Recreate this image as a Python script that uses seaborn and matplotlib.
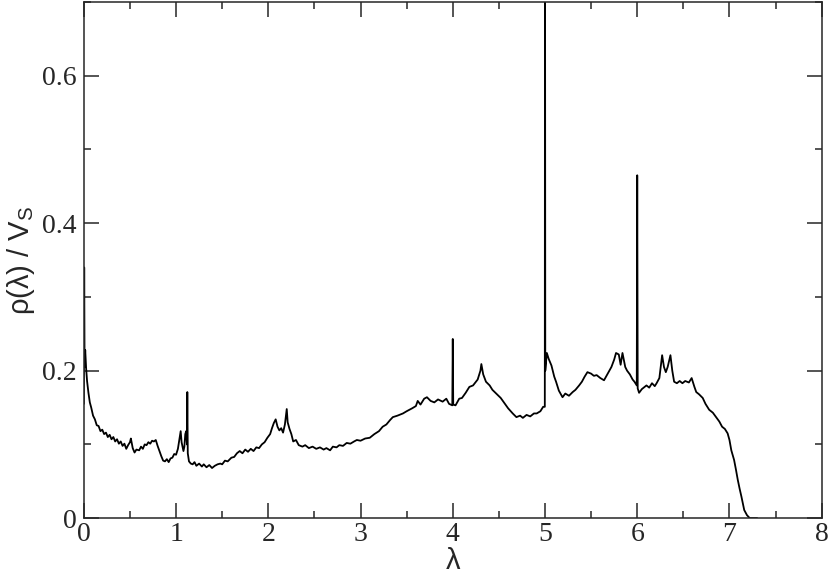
import matplotlib
matplotlib.use("Agg")
import matplotlib.pyplot as plt
import seaborn as sns
from matplotlib.ticker import MultipleLocator, FuncFormatter

# spectral density, lambda vs rho/V_s
lam = [
    0.000, 0.004, 0.008, 0.015, 0.025, 0.035, 0.050, 0.065, 0.080, 0.100,
    0.120, 0.140, 0.160, 0.180, 0.200, 0.220, 0.240, 0.260, 0.280, 0.300,
    0.320, 0.340, 0.360, 0.380, 0.400, 0.420, 0.440, 0.460, 0.480, 0.500,
    0.510, 0.530, 0.550, 0.570, 0.600, 0.620, 0.640, 0.660, 0.680, 0.700,
    0.720, 0.740, 0.760, 0.780, 0.800, 0.820, 0.840, 0.860, 0.880, 0.900,
    0.920, 0.940, 0.960, 0.980, 1.000, 1.020, 1.040, 1.050, 1.060, 1.080,
    1.090, 1.100, 1.110, 1.118, 1.122, 1.127, 1.140, 1.160, 1.180, 1.200,
    1.220, 1.250, 1.280, 1.300, 1.330, 1.360, 1.390, 1.420, 1.450, 1.480,
    1.500, 1.530, 1.560, 1.600, 1.630, 1.660, 1.690, 1.720, 1.750, 1.780,
    1.810, 1.840, 1.870, 1.900, 1.930, 1.960, 1.990, 2.020, 2.040, 2.060,
    2.080, 2.100, 2.120, 2.140, 2.160, 2.180, 2.200, 2.210, 2.230, 2.250,
    2.270, 2.300, 2.330, 2.370, 2.400, 2.440, 2.480, 2.520, 2.560, 2.600,
    2.630, 2.670, 2.700, 2.740, 2.770, 2.810, 2.850, 2.890, 2.930, 2.960,
    3.000, 3.050, 3.100, 3.150, 3.200, 3.240, 3.280, 3.320, 3.350, 3.400,
    3.460, 3.500, 3.560, 3.600, 3.620, 3.650, 3.690, 3.720, 3.760, 3.800,
    3.840, 3.890, 3.930, 3.960, 3.995, 4.000, 4.005, 4.030, 4.070, 4.100,
    4.140, 4.180, 4.220, 4.270, 4.300, 4.310, 4.330, 4.360, 4.400, 4.430,
    4.480, 4.520, 4.560, 4.600, 4.650, 4.690, 4.730, 4.760, 4.800, 4.840,
    4.880, 4.910, 4.950, 4.980, 4.998, 5.000, 5.003, 5.020, 5.040, 5.070,
    5.100, 5.120, 5.150, 5.190, 5.220, 5.260, 5.300, 5.330, 5.370, 5.400,
    5.430, 5.460, 5.500, 5.530, 5.560, 5.600, 5.640, 5.680, 5.720, 5.750,
    5.770, 5.800, 5.820, 5.840, 5.870, 5.890, 5.920, 5.950, 5.970, 5.995,
    6.000, 6.005, 6.020, 6.050, 6.080, 6.100, 6.130, 6.160, 6.190, 6.210,
    6.240, 6.270, 6.290, 6.310, 6.330, 6.360, 6.380, 6.400, 6.430, 6.460,
    6.490, 6.520, 6.560, 6.590, 6.620, 6.640, 6.670, 6.710, 6.740, 6.780,
    6.820, 6.860, 6.890, 6.920, 6.950, 6.980, 7.000, 7.020, 7.050, 7.070,
    7.090, 7.110, 7.130, 7.160, 7.190, 7.220, 7.300,
]
rho = [
    0.155, 0.340, 0.205, 0.228, 0.203, 0.186, 0.170, 0.157, 0.150, 0.139,
    0.134, 0.126, 0.125, 0.118, 0.120, 0.114, 0.116, 0.110, 0.113, 0.107,
    0.110, 0.104, 0.107, 0.101, 0.104, 0.098, 0.101, 0.094, 0.099, 0.103,
    0.108, 0.095, 0.089, 0.093, 0.092, 0.097, 0.094, 0.100, 0.099, 0.103,
    0.101, 0.105, 0.104, 0.106, 0.098, 0.091, 0.084, 0.078, 0.077, 0.080,
    0.076, 0.081, 0.082, 0.087, 0.086, 0.094, 0.110, 0.118, 0.103, 0.091,
    0.097, 0.114, 0.118, 0.100, 0.171, 0.088, 0.077, 0.074, 0.073, 0.076,
    0.071, 0.074, 0.070, 0.073, 0.069, 0.072, 0.068, 0.071, 0.073, 0.074,
    0.073, 0.078, 0.077, 0.082, 0.083, 0.088, 0.091, 0.088, 0.093, 0.090,
    0.094, 0.091, 0.096, 0.095, 0.100, 0.103, 0.109, 0.114, 0.122, 0.129,
    0.134, 0.124, 0.119, 0.122, 0.116, 0.127, 0.148, 0.130, 0.121, 0.114,
    0.104, 0.106, 0.099, 0.097, 0.099, 0.095, 0.097, 0.094, 0.096, 0.093,
    0.095, 0.092, 0.097, 0.096, 0.099, 0.098, 0.102, 0.101, 0.104, 0.106,
    0.105, 0.108, 0.109, 0.114, 0.118, 0.124, 0.127, 0.133, 0.137, 0.139,
    0.142, 0.145, 0.149, 0.152, 0.159, 0.154, 0.162, 0.164, 0.159, 0.157,
    0.161, 0.158, 0.162, 0.155, 0.153, 0.243, 0.154, 0.153, 0.162, 0.163,
    0.170, 0.178, 0.180, 0.188, 0.200, 0.209, 0.195, 0.185, 0.180, 0.174,
    0.168, 0.163, 0.156, 0.149, 0.142, 0.137, 0.139, 0.136, 0.140, 0.138,
    0.142, 0.142, 0.145, 0.151, 0.151, 0.900, 0.200, 0.224, 0.216, 0.207,
    0.192, 0.185, 0.173, 0.164, 0.169, 0.166, 0.171, 0.174, 0.180, 0.185,
    0.192, 0.198, 0.196, 0.193, 0.194, 0.190, 0.187, 0.196, 0.205, 0.215,
    0.224, 0.222, 0.208, 0.224, 0.205, 0.200, 0.195, 0.188, 0.185, 0.180,
    0.465, 0.176, 0.170, 0.175, 0.178, 0.180, 0.177, 0.183, 0.179, 0.183,
    0.190, 0.221, 0.205, 0.198, 0.205, 0.221, 0.200, 0.185, 0.183, 0.186,
    0.183, 0.186, 0.184, 0.190, 0.178, 0.171, 0.168, 0.163, 0.155, 0.147,
    0.143, 0.136, 0.131, 0.124, 0.121, 0.115, 0.106, 0.092, 0.079, 0.066,
    0.052, 0.040, 0.029, 0.011, 0.004, 0.000, 0.000,
]

xticks = [0, 1, 2, 3, 4, 5, 6, 7, 8]
yticks = [0, 0.2, 0.4, 0.6]

sns.set_style("ticks")
plt.rcParams["font.family"] = ["Liberation Serif", "DejaVu Serif"]
plt.rcParams["mathtext.default"] = "regular"

fig = plt.figure(figsize=(8.3, 5.77), dpi=100)
ax = fig.add_axes([0.101, 0.102, 0.889, 0.8945])

sns.lineplot(x=lam, y=rho, sort=False, estimator=None, color="black",
             linewidth=1.3, ax=ax)

ax.set_xlim(0, 8)
ax.set_ylim(0, 0.7)
ax.set_xticks(xticks)
ax.set_yticks(yticks)
ax.xaxis.set_minor_locator(MultipleLocator(0.5))
ax.yaxis.set_minor_locator(MultipleLocator(0.1))
ax.yaxis.set_major_formatter(FuncFormatter(lambda v, p: "%g" % v))

ax.tick_params(which="both", direction="in", top=True, right=True,
               width=1.1, labelsize=20)
ax.tick_params(which="major", length=11, pad=3)
ax.tick_params(which="minor", length=5)
ax.tick_params(axis="y", which="major", pad=5)
for s in ax.spines.values():
    s.set_linewidth(1.1)

lab_font = dict(family=["Liberation Sans", "DejaVu Sans"], fontsize=21)
ax.set_xlabel("λ", labelpad=0, **lab_font)
ax.set_ylabel("ρ(λ) / V$_S$", labelpad=4, **lab_font)

fig.savefig("out.png", dpi=100)
